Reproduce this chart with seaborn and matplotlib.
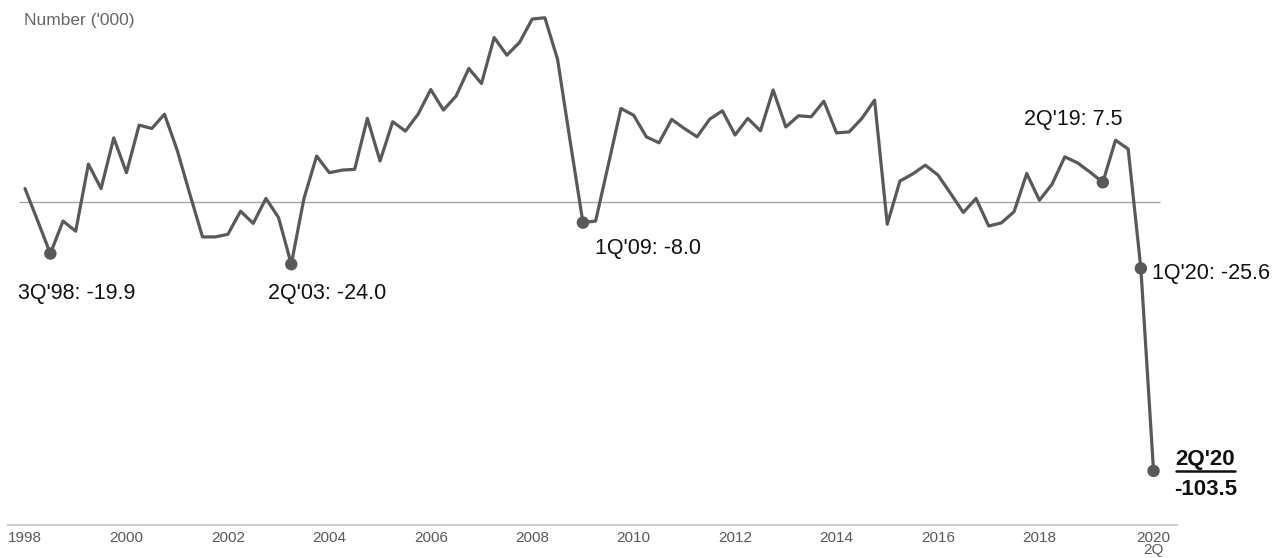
import numpy as np
import pandas as pd
import matplotlib
matplotlib.use("Agg")
import matplotlib.pyplot as plt
from matplotlib.lines import Line2D
import seaborn as sns

# ---- data (quarterly, 1Q'98 .. 2Q'20), number ('000) ----
values = [
    5.1, -7.3, -19.9, -7.4, -11.3, 14.5, 5.1, 24.6, 11.2, 29.5,
    28.2, 33.7, 19.9, 3.0, -13.5, -13.5, -12.5, -3.6, -8.3, 1.3,
    -6.1, -24.0, 1.3, 17.6, 11.2, 12.2, 12.5, 32.1, 15.7, 30.8,
    27.2, 33.7, 43.2, 35.3, 40.7, 51.3, 45.5, 63.2, 56.4, 61.3,
    70.3, 70.8, 54.8, 23.1, -8.0, -7.4, 14.2, 35.9, 33.3, 25.0,
    22.7, 31.7, 28.2, 25.0, 31.8, 35.0, 25.7, 32.1, 27.3, 43.0,
    28.8, 33.1, 32.7, 38.7, 26.5, 26.9, 32.1, 39.1, -8.6, 8.0,
    10.7, 14.1, 10.3, 3.2, -4.1, 1.3, -9.3, -8.1, -3.8, 10.9,
    0.6, 6.8, 17.3, 15.0, 11.4, 7.5, 23.7, 20.3, -25.6, -103.5,
]
quarters = [f"{q}Q'{y % 100:02d}" for y in range(1998, 2021) for q in range(1, 5)][:len(values)]

tick_labels = ["1998", "2000", "2002", "2004", "2006", "2008", "2010",
               "2012", "2014", "2016", "2018", "2020\n2Q"]
tick_quarters = ["1Q'98", "1Q'00", "1Q'02", "1Q'04", "1Q'06", "1Q'08", "1Q'10",
                 "1Q'12", "1Q'14", "1Q'16", "1Q'18", "2Q'20"]

highlight = ["3Q'98", "2Q'03", "1Q'09", "2Q'19", "1Q'20", "2Q'20"]
highlight_labels = ["3Q'98: -19.9", "2Q'03: -24.0", "1Q'09: -8.0",
                    "2Q'19: 7.5", "1Q'20: -25.6", None]

df = pd.DataFrame({"quarter": quarters, "value": values})
df["idx"] = np.arange(len(df))

# ---- style ----
sns.set_style("white")
plt.rcParams["font.family"] = ["Liberation Sans", "DejaVu Sans"]

LINE = "#595959"
fig = plt.figure(figsize=(12.83, 5.58), dpi=100)
ax = fig.add_axes([8 / 1283, 1 - 525 / 558, 1169 / 1283, (525 - 5) / 558])

sns.lineplot(data=df, x="idx", y="value", ax=ax, color=LINE, linewidth=2.3,
             zorder=3)
hl = df[df["quarter"].isin(highlight)]
sns.scatterplot(data=hl, x="idx", y="value", ax=ax, color=LINE, s=80,
                edgecolor="none", zorder=4)

ax.hlines(0, -0.5, len(df) - 0.5, color="#A6A6A6", linewidth=1.0, zorder=1)

ax.set_xlim(-1.34, 90.85)
ax.set_ylim(-124.3, 75.7)

pos = [int(df.loc[df["quarter"] == q, "idx"].iloc[0]) for q in tick_quarters]
ax.set_xticks(pos)
ax.set_xticklabels(tick_labels, fontsize=11, color=LINE, linespacing=0.9)
ax.set_yticks([])
ax.tick_params(axis="x", length=0, pad=4)
ax.set_xlabel("")
ax.set_ylabel("")
for s in ["top", "left", "right"]:
    ax.spines[s].set_visible(False)
ax.spines["bottom"].set_color("#D0D0D0")
ax.spines["bottom"].set_linewidth(1.5)

fig.text(24 / 1283, 1 - 21 / 558, "Number ('000)", fontsize=12.5, color="#666666",
         ha="left", va="center")

# annotations (offsets in pixels)
offsets = {
    "3Q'98": (-32, -40, "left"),
    "2Q'03": (-23, -29, "left"),
    "1Q'09": (12, -26, "left"),
    "2Q'19": (-79, 63, "left"),
    "1Q'20": (11, -5, "left"),
}
for q, lab in zip(highlight, highlight_labels):
    if lab is None:
        continue
    r = df[df["quarter"] == q].iloc[0]
    dx, dy, ha = offsets[q]
    ax.annotate(lab, xy=(r["idx"], r["value"]), xytext=(dx, dy),
                textcoords="offset pixels", ha=ha, va="center",
                fontsize=15.5, color="#111111")

last = df.iloc[-1]
t1 = ax.annotate("2Q'20", xy=(last["idx"], last["value"]), xytext=(52, 11),
                 textcoords="offset pixels", ha="center", va="center",
                 fontsize=16, fontweight="bold", color="#111111")
t2 = ax.annotate(f"{last['value']:.1f}", xy=(last["idx"], last["value"]),
                 xytext=(52, -19), textcoords="offset pixels", ha="center",
                 va="center", fontsize=16, fontweight="bold", color="#111111")

# underline the bold quarter label
fig.canvas.draw()
bb = t1.get_window_extent()
W, H = fig.get_size_inches() * fig.dpi
y_ul = (bb.y0 - 0.5) / H
fig.add_artist(Line2D([bb.x0 / W, bb.x1 / W], [y_ul, y_ul], color="#111111",
                      linewidth=1.8, transform=fig.transFigure))

fig.savefig("out.png", dpi=100)
